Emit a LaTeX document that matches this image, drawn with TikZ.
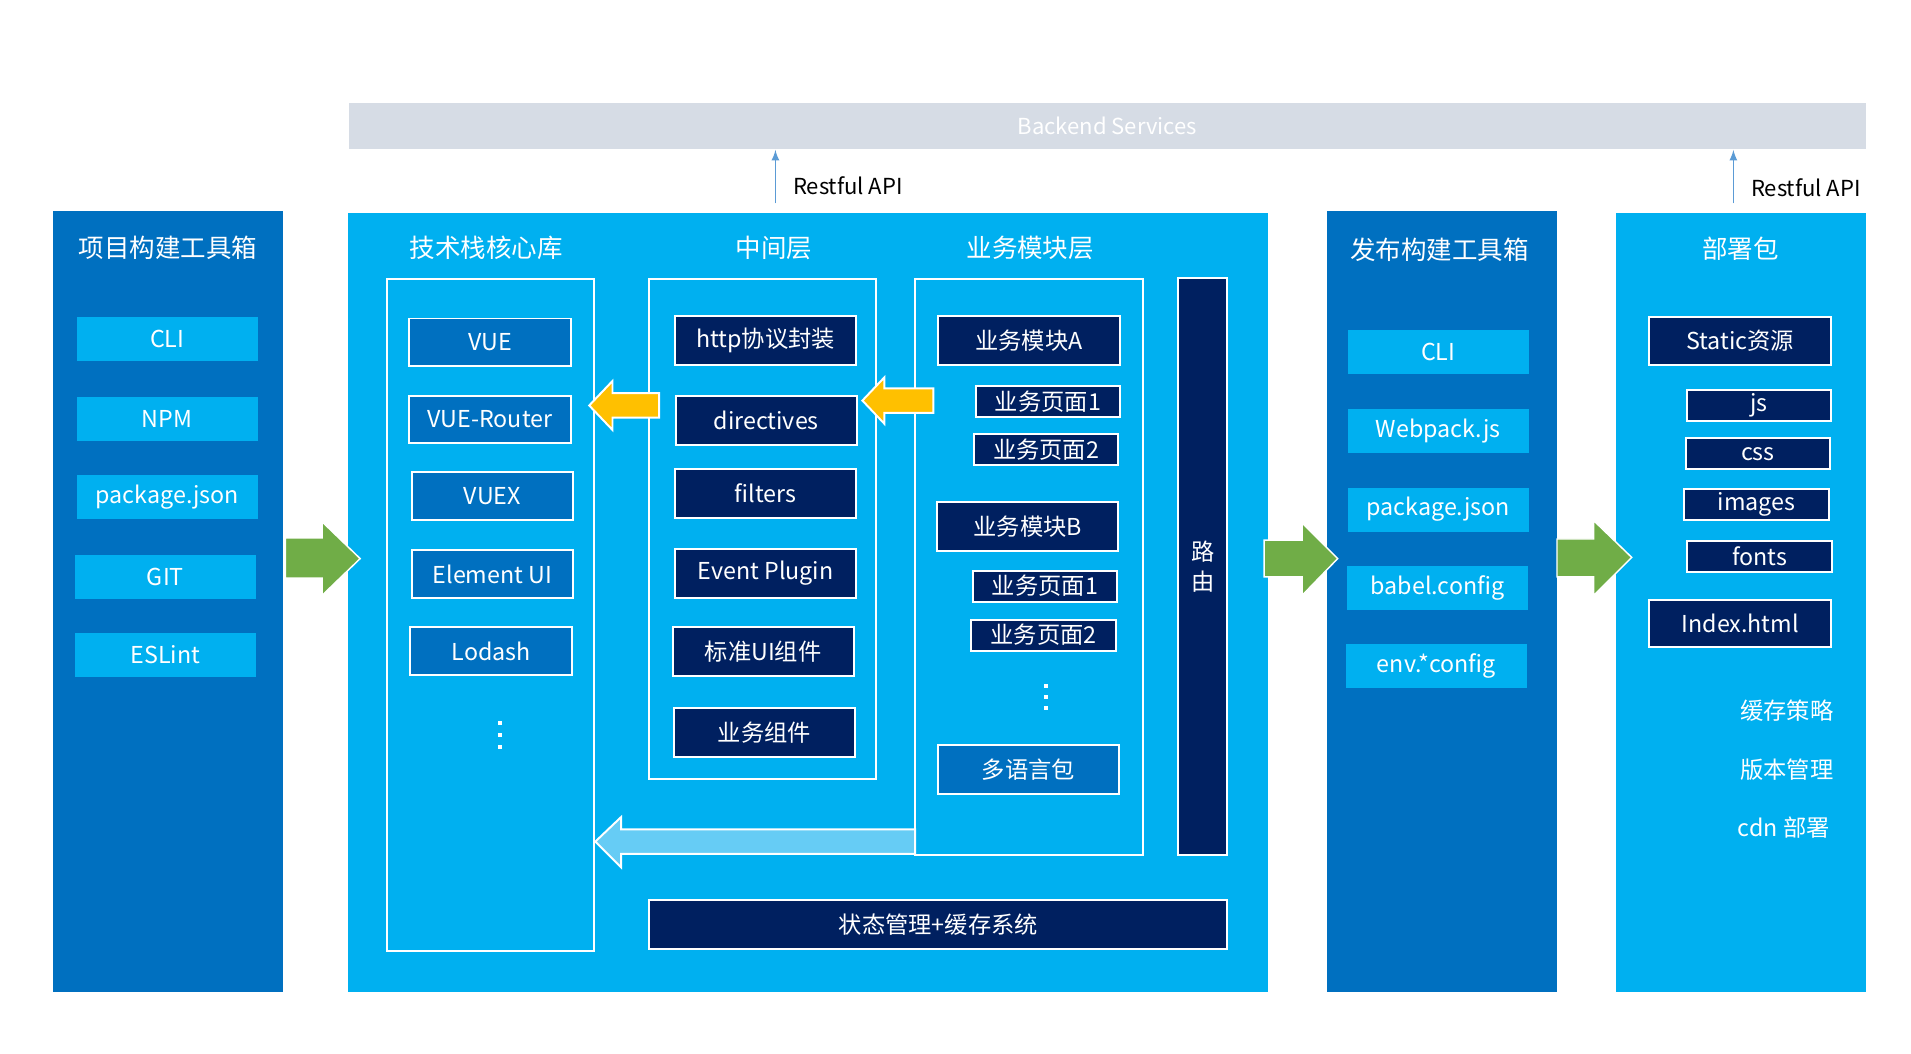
\documentclass[tikz,border=0pt]{standalone}
\usepackage{fontspec}
\setmainfont{Noto Sans CJK SC}
\usepackage{tikz}
\usetikzlibrary{calc}

\definecolor{cDark}{HTML}{0070C0}
\definecolor{cLight}{HTML}{00B0F0}
\definecolor{cNavy}{HTML}{002060}
\definecolor{cGray}{HTML}{D6DCE5}
\definecolor{cGreen}{HTML}{70AD47}
\definecolor{cYellow}{HTML}{FFC000}
\definecolor{cPale}{HTML}{66CCF5}
\definecolor{cApi}{HTML}{5B9BD5}

\newcommand{\titlefont}{\fontsize{10.4}{12}\selectfont}
\newcommand{\itemfont}{\fontsize{9.5}{11}\selectfont}
\newcommand{\apifont}{\fontsize{9}{10}\selectfont}

\tikzset{
	frame/.style={draw=white, line width=0.8pt},
	title/.style={text=white, font=\titlefont, inner sep=0pt},
	toolbox/.style={fill=cLight, text=white, font=\itemfont, inner sep=0pt, minimum width=74pt, minimum height=18pt},
	corebox/.style={fill=cDark, draw=white, line width=0.8pt, text=white, font=\itemfont, inner sep=0pt, minimum width=66pt, minimum height=19.5pt},
	navybox/.style={fill=cNavy, draw=white, line width=0.8pt, text=white, font=\itemfont, inner sep=0pt, minimum width=74pt, minimum height=20pt},
	pagebox/.style={navybox, minimum width=59pt, minimum height=12.75pt},
	note/.style={text=white, font=\itemfont, inner sep=0pt, anchor=east},
	greenarrow/.style={fill=cGreen, draw=white, line width=0.6pt},
	yellowarrow/.style={fill=cYellow, draw=white, line width=0.8pt},
	palearrow/.style={fill=cPale, draw=white, line width=0.8pt},
	api/.style={draw=cApi, line width=0.5pt, -latex}
}

\begin{document}
\begin{tikzpicture}[x=0.5pt, y=-0.5pt]
	\useasboundingbox[fill=white] (0,0) rectangle (1560,860);

	% panels
	\fill[cDark]	(43,172) rectangle (231,810);
	\fill[cLight]	(284,174) rectangle (1035,810);
	\fill[cDark]	(1083,172) rectangle (1271,810);
	\fill[cLight]	(1319,174) rectangle (1523,810);

	\node[fill=cGray, text=white, font=\apifont, minimum width=619pt, minimum height=19pt, inner sep=0pt] (backend) at (904,103) {Backend Services};

	% restful api
	\coordinate (api1) at (633,166);
	\coordinate (api2) at (1415,166);
	\draw[api] (api1) -- (api1 |- backend.south);
	\draw[api] (api2) -- (api2 |- backend.south);
	\node[anchor=west, font=\apifont, inner sep=0pt] (apitext1) at (647,152) {Restful API};
	\node[anchor=west, font=\apifont, inner sep=0pt] (apitext2) at (1429,153) {Restful API};

	% project toolbox
	\node[title] (t1) at (137,202) {项目构建工具箱};
	\node[toolbox] (cli1) at (136.5,277) {CLI};
	\node[toolbox] (npm) at (136.5,342) {NPM};
	\node[toolbox] (pkg1) at (136.5,406) {package.json};
	\node[toolbox] (git) at (135,471) {GIT};
	\node[toolbox] (eslint) at (135,534.5) {ESLint};

	\draw[greenarrow] (233,439) -- (263,439) -- (263,426) -- (294,456) -- (263,486) -- (263,472) -- (233,472) -- cycle;

	% core libs
	\node[title] (t2) at (397,202) {技术栈核心库};
	\draw[frame] (316,228) rectangle (485,776);
	\node[corebox] (vue) at (400,279.5) {VUE};
	\node[corebox] (router) at (400,342.5) {VUE-Router};
	\node[corebox] (vuex) at (402,405) {VUEX};
	\node[corebox] (element) at (402,468.5) {Element UI};
	\node[corebox] (lodash) at (401,531.5) {Lodash};
	\foreach \y in {590,600,610}
		\fill[white] (406.5,\y-1.5) rectangle ++(3,3);

	% middle layer
	\node[title] (t3) at (632,202) {中间层};
	\draw[frame] (530,228) rectangle (715,636);
	\node[navybox] (http) at (625,278) {http协议封装};
	\node[navybox] (directives) at (625.5,343.5) {directives};
	\node[navybox] (filters) at (625,403) {filters};
	\node[navybox] (event) at (625,468) {Event Plugin};
	\node[navybox] (stdui) at (623,532) {标准UI组件};
	\node[navybox] (bizcomp) at (624,598) {业务组件};

	% business modules
	\node[title] (t4) at (841,202) {业务模块层};
	\draw[frame] (747,228) rectangle (933,698);
	\node[navybox] (moda) at (840,278) {业务模块A};
	\node[pagebox] (pa1) at (855.5,327.5) {业务页面1};
	\node[pagebox] (pa2) at (854,367) {业务页面2};
	\node[navybox] (modb) at (839,430) {业务模块B};
	\node[pagebox] (pb1) at (853,478.5) {业务页面1};
	\node[pagebox] (pb2) at (852,518.5) {业务页面2};
	\foreach \y in {560,569,578}
		\fill[white] (852.5,\y-1.5) rectangle ++(3,3);
	\node[navybox, fill=cDark] (i18n) at (839.5,628.5) {多语言包};

	\node[navybox, minimum width=20pt, minimum height=235.5pt, align=center, font=\itemfont\linespread{1.1}\selectfont] (route) at (982,462.5) {路\\由};
	\node[navybox, minimum width=236pt] (store) at (766,755) {状态管理+缓存系统};

	% flow arrows
	\draw[yellowarrow] (538,321) -- (500,321) -- (500,311) -- (481,331) -- (500,351) -- (500,341) -- (538,341) -- cycle;
	\draw[yellowarrow] (762,317) -- (722,317) -- (722,308) -- (704,327) -- (722,346) -- (722,337) -- (762,337) -- cycle;
	\draw[palearrow] (747,677) -- (507,677) -- (507,667) -- (486,687) -- (507,708) -- (507,697) -- (747,697) -- cycle;

	\draw[greenarrow] (1032,441) -- (1063,441) -- (1063,427) -- (1092,456) -- (1063,486) -- (1063,471) -- (1032,471) -- cycle;

	% release toolbox
	\node[title] (t5) at (1175,204) {发布构建工具箱};
	\node[toolbox] (cli2) at (1174,287) {CLI};
	\node[toolbox] (webpack) at (1174,352) {Webpack.js};
	\node[toolbox] (pkg2) at (1174,416) {package.json};
	\node[toolbox] (babel) at (1173.5,480) {babel.config};
	\node[toolbox] (env) at (1172.5,544) {env.*config};

	\draw[greenarrow] (1271,440) -- (1301,440) -- (1301,425) -- (1332,455) -- (1301,486) -- (1301,471) -- (1271,471) -- cycle;

	% deploy package
	\node[title] (t6) at (1421,203) {部署包};
	\node[navybox, minimum width=74.5pt, minimum height=19.5pt] (static) at (1420.5,278.5) {Static资源};
	\node[pagebox] (js) at (1436,331) {js};
	\node[pagebox] (css) at (1435,370.5) {css};
	\node[pagebox] (images) at (1434,412) {images};
	\node[pagebox] (fonts) at (1436.5,454) {fonts};
	\node[navybox, minimum width=74.5pt, minimum height=19pt] (index) at (1420.5,509) {Index.html};
	\node[note] (cache) at (1497,580) {缓存策略};
	\node[note] (version) at (1497,628) {版本管理};
	\node[note] (cdn) at (1494,676) {cdn 部署};
\end{tikzpicture}
\end{document}
